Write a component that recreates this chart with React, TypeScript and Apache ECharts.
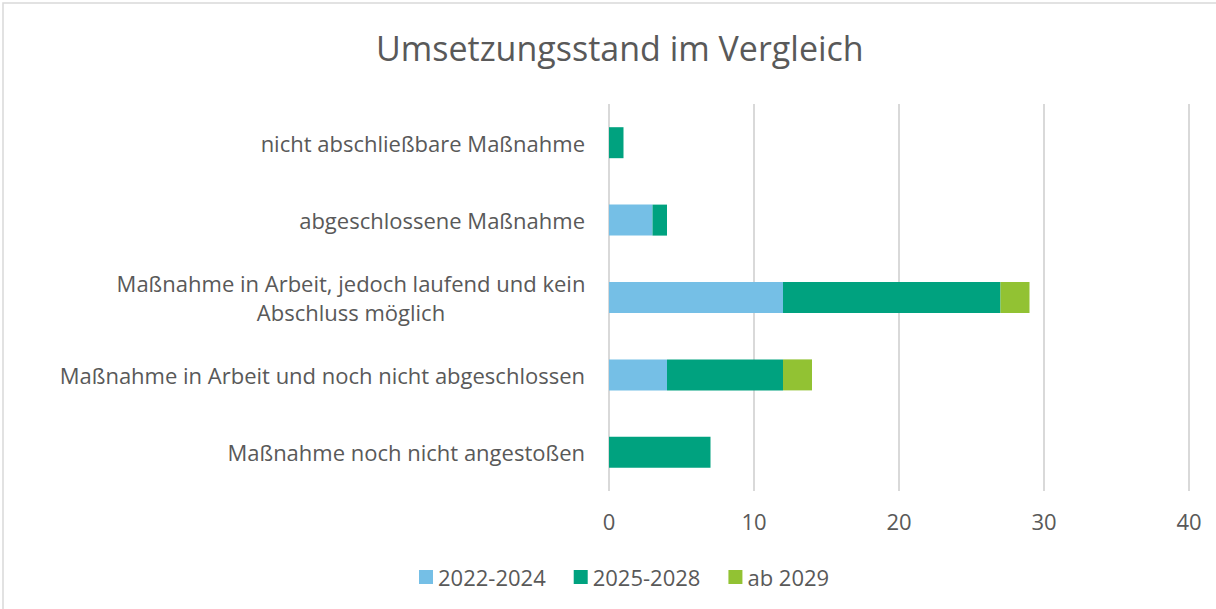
import React, { useEffect, useRef } from "react";
import * as echarts from "echarts";

const categories = [
  "nicht abschließbare Maßnahme",
  "abgeschlossene Maßnahme",
  "Maßnahme in Arbeit, jedoch laufend und kein\nAbschluss möglich",
  "Maßnahme in Arbeit und noch nicht abgeschlossen",
  "Maßnahme noch nicht angestoßen",
];
const s2022 = [0, 3, 12, 4, 0];
const s2025 = [1, 1, 15, 8, 7];
const s2029 = [0, 0, 2, 2, 0];
const seriesNames = ["2022-2024", "2025-2028", "ab 2029"];
const colors = ["#75BFE6", "#00A27F", "#92C233"];

const FONT = "Open Sans";
const TXT = "#595959";

export default function App() {
  const ref = useRef<HTMLDivElement>(null);
  useEffect(() => {
    const chart = echarts.init(ref.current!, null, { renderer: "svg" });
    const data = [s2022, s2025, s2029];
    chart.setOption({
      animation: false,
      backgroundColor: "#fff",
      title: {
        text: "Umsetzungsstand im Vergleich",
        left: 371,
        top: 26,
        textStyle: { fontFamily: FONT, fontSize: 34, fontWeight: "normal", color: TXT },
      },
      graphic: [
        {
          type: "rect",
          shape: { x: 3, y: 3, width: 1220, height: 610 },
          style: { fill: "none", stroke: "#d9d9d9", lineWidth: 1.5 },
          silent: true,
        },
      ],
      legend: {
        bottom: 16,
        left: 414,
        itemWidth: 14,
        itemHeight: 14,
        itemGap: 28,
        icon: "rect",
        textStyle: { fontFamily: FONT, fontSize: 22, color: TXT },
        data: seriesNames,
      },
      grid: { left: 609, right: 27, top: 104, bottom: 118, containLabel: false },
      xAxis: {
        type: "value",
        min: 0,
        max: 40,
        interval: 10,
        axisLine: { show: false },
        axisTick: { show: false },
        axisLabel: { fontFamily: FONT, fontSize: 22, color: TXT, margin: 19 },
        splitLine: { lineStyle: { color: "#d9d9d9", width: 2 } },
      },
      yAxis: {
        type: "category",
        inverse: true,
        data: categories,
        axisLine: { show: false },
        axisTick: { show: false },
        axisLabel: {
          fontFamily: FONT,
          fontSize: 22,
          color: TXT,
          margin: 24,
          align: "right",
          lineHeight: 29,
          formatter: (v: string) =>
            v.includes("\n")
              ? v
                  .split("\n")
                  .map((line) => `{c|${line}}`)
                  .join("\n")
              : v,
          rich: {
            c: {
              width: 468,
              align: "center",
              fontFamily: FONT,
              fontSize: 22,
              color: TXT,
              lineHeight: 29,
            },
          },
        },
      },
      series: seriesNames.map((name, i) => ({
        name,
        type: "bar",
        stack: "total",
        barWidth: 31,
        data: data[i],
        itemStyle: { color: colors[i] },
      })),
    });
    return () => chart.dispose();
  }, []);
  return (
    <div
      ref={ref}
      style={{ position: "fixed", left: 0, top: 0, width: 1216, height: 609 }}
    />
  );
}
